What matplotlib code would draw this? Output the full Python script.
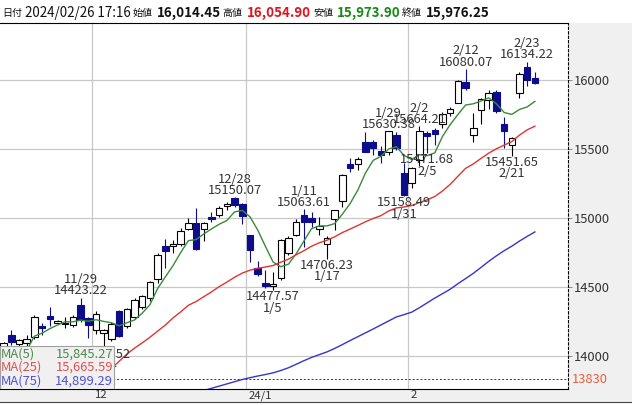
import matplotlib
matplotlib.use('Agg')
import matplotlib.pyplot as plt
from matplotlib.patches import Rectangle
import numpy as np

plt.rcParams['font.family'] = ['Noto Sans CJK JP', 'DejaVu Sans']

# daily candles, 2023/11/14 .. 2024/02/26
dates = ['11/14', '11/15', '11/16', '11/17', '11/20', '11/21', '11/22', '11/24', '11/27', '11/28',
         '11/29', '11/30', '12/1', '12/4', '12/5', '12/6', '12/7', '12/8', '12/11', '12/12',
         '12/13', '12/14', '12/15', '12/18', '12/19', '12/20', '12/21', '12/22', '12/26', '12/27',
         '12/28', '12/29', '1/2', '1/3', '1/4', '1/5', '1/8', '1/9', '1/10', '1/11',
         '1/12', '1/16', '1/17', '1/18', '1/19', '1/22', '1/23', '1/24', '1/25', '1/26',
         '1/29', '1/30', '1/31', '2/1', '2/2', '2/5', '2/6', '2/7', '2/8', '2/9',
         '2/12', '2/13', '2/14', '2/15', '2/16', '2/20', '2/21', '2/22', '2/23', '2/26']
opens = [13998, 14150, 14085, 14095, 14139, 14218, 14290, 14238, 14235, 14225,
         14367, 14275, 14185, 14168, 14120, 14325, 14220, 14285, 14357, 14418,
         14555, 14800, 14797, 14810, 14920, 14966, 14918, 15005, 15025, 15085,
         15143, 15100, 14874, 14641, 14530, 14504, 14564, 14745, 14878, 15020,
         15000, 14922, 14812, 14990, 15120, 15393, 15390, 15553, 15550, 15483,
         15475, 15602, 15325, 15252, 15420, 15618, 15640, 15685, 15760, 15836,
         15983, 15600, 15783, 15855, 15915, 15680, 15530, 15905, 16092, 16014.45]
highs = [14103, 14191, 14125, 14150, 14297, 14240, 14357, 14262, 14285, 14300,
         14423.22, 14285, 14323, 14195, 14250, 14333, 14350, 14420, 14440, 14545,
         14745, 14850, 14838, 14925, 15000, 15070, 14970, 15045, 15090, 15115,
         15150.07, 15112, 14880, 14690, 14623, 14610, 14848, 14870, 14990, 15063.61,
         15045, 15005, 14870, 15060, 15320, 15433, 15440, 15625, 15565, 15520,
         15630.38, 15625, 15396, 15370, 15664.21, 15630, 15655, 15770, 15803, 16000,
         16080.07, 15760, 15870, 15925, 15930, 15730, 15590, 16055, 16134.22, 16054.90]
lows = [13967, 14080, 14050, 14070, 14122, 14150, 14220, 14232, 14201, 14210,
        14250, 14128, 14160, 14058.52, 14110, 14140, 14200, 14270, 14340, 14400,
        14530, 14640, 14750, 14800, 14915, 14766, 14835, 14970, 15010, 15060,
        15083, 14955, 14682, 14580, 14490, 14477.57, 14552, 14730, 14870, 14790,
        14935, 14880, 14706.23, 14915, 15082, 15336, 15345, 15475, 15460, 15400,
        15460, 15490, 15158.49, 15215, 15375, 15471.68, 15530, 15650, 15740, 15830,
        15925, 15553, 15680, 15790, 15760, 15505, 15451.65, 15867, 15955, 15973.90]
closes = [14094.38, 14103.84, 14113.67, 14125.48, 14284.53, 14199.98, 14265.86, 14250.85, 14241.02, 14281.76,
          14258.49, 14226.22, 14305.03, 14185.49, 14229.91, 14146.71, 14339.99, 14403.97, 14432.49, 14533.40,
          14733.96, 14761.56, 14813.92, 14905.20, 14963.87, 14777.94, 14963.23, 14992.97, 15074.57, 15099.18,
          15095.14, 15011.35, 14765.94, 14592.21, 14510.30, 14524.07, 14843.77, 14857.71, 14969.65, 14970.19,
          14972.76, 14944.35, 14855.62, 15055.65, 15310.97, 15360.29, 15425.94, 15481.92, 15510.50, 15455.36,
          15628.04, 15509.90, 15164.01, 15361.64, 15628.95, 15597.68, 15609.00, 15756.64, 15793.71, 15990.66,
          15942.55, 15655.60, 15859.15, 15906.17, 15775.65, 15630.78, 15580.87, 16041.62, 15996.82, 15976.25]

ma5 = [13766, 13857, 13976, 14041, 14144, 14166, 14198, 14225, 14248, 14248,
       14260, 14252, 14263, 14251, 14241, 14219, 14241, 14261, 14311, 14371,
       14489, 14573, 14655, 14750, 14836, 14844, 14885, 14921, 14955, 14982,
       15045, 15055, 15009, 14913, 14795, 14681, 14647, 14666, 14741, 14833,
       14923, 14943, 14943, 14960, 15028, 15105, 15202, 15327, 15418, 15447,
       15500, 15517, 15454, 15424, 15459, 15452, 15472, 15591, 15677, 15750,
       15819, 15828, 15848, 15871, 15828, 15765, 15751, 15787, 15805, 15845.27]
ma25 = [None] * 10 + [
        13666, 13722, 13791, 13852, 13910, 13962, 14013, 14057, 14095, 14136,
        14180, 14224, 14276, 14320, 14368, 14395, 14430, 14465, 14503, 14536,
        14571, 14601, 14622, 14636, 14645, 14656, 14680, 14702, 14734, 14763,
        14796, 14821, 14839, 14864, 14895, 14920, 14946, 14973, 14997, 15017,
        15051, 15073, 15080, 15091, 15112, 15132, 15156, 15196, 15244, 15303,
        15360, 15392, 15432, 15470, 15502, 15528, 15554, 15601, 15639, 15665.59]
ma75 = [None] * 24 + [
        13722, 13735, 13750, 13766, 13782, 13798, 13814, 13830, 13843, 13855,
        13866, 13878, 13895, 13915, 13940, 13966, 13990, 14010, 14030, 14055,
        14083, 14112, 14140, 14168, 14196, 14225, 14254, 14283, 14300, 14318,
        14350, 14385, 14420, 14452, 14484, 14524, 14561, 14599, 14642, 14686,
        14726, 14763, 14796, 14833, 14867, 14899.29]

peak_days = ['11/29', '12/28', '1/11', '1/29', '2/2', '2/12', '2/23']
trough_days = ['12/4', '1/5', '1/17', '1/31', '2/5', '2/21']
month_starts = ['12/1', '1/2', '2/1']
month_labels = ['12', '24/1', '2']
y_ticks = [14000, 14500, 15000, 15500, 16000]
ref_level = 13830

W, H = 632, 405
fig = plt.figure(figsize=(W / 100, H / 100), dpi=100)
fig.patch.set_facecolor('white')

top_px, bot_px, right_px = 22.5, 389, 568
# grey side panel and bottom strip (drawn beneath the axes)
fig.patches.append(Rectangle((right_px / W, 1 - bot_px / H), 1 - right_px / W, (bot_px - top_px) / H,
                             transform=fig.transFigure, facecolor='#f0f0f0', edgecolor='none', zorder=-2))
fig.patches.append(Rectangle((0, 1 - 402 / H), 1, 13 / H, transform=fig.transFigure,
                             facecolor='#f0f0f0', edgecolor='none', zorder=-2))
fig.add_artist(plt.Line2D([0, 1], [1 - 402 / H] * 2, transform=fig.transFigure,
                          color='#444', lw=0.8, zorder=-1))

ax = fig.add_axes([0, 1 - bot_px / H, right_px / W, (bot_px - top_px) / H])
x = np.arange(len(dates))
o = np.array(opens); h = np.array(highs); l = np.array(lows); c = np.array(closes)
up = c >= o
navy = '#0c0c8c'

ax.vlines(x[up], l[up], h[up], color='black', lw=0.8, zorder=2)
ax.vlines(x[~up], l[~up], h[~up], color=navy, lw=0.8, zorder=2)
ax.bar(x[up], (c - o)[up], bottom=o[up], width=0.84, facecolor='white', edgecolor='black', lw=0.8, zorder=3)
ax.bar(x[~up], (o - c)[~up], bottom=c[~up], width=0.84, facecolor=navy, edgecolor=navy, lw=0.8, zorder=3)

def series(v):
    return np.array([np.nan if a is None else a for a in v], dtype=float)

ax.plot(x, series(ma5), color='#3a8a3a', lw=1.0, zorder=4)
ax.plot(x, series(ma25), color='#e03434', lw=1.0, zorder=4)
ax.plot(x, series(ma75), color='#3434cc', lw=1.0, zorder=4)

ax.set_xlim(-0.468, 73.3)
ax.set_ylim(13761, 16417)

grid_x = [dates.index(d) - 0.5 for d in month_starts]
for gx in grid_x:
    ax.axvline(gx, color='#c8c8c8', lw=0.9, zorder=1)
for gy in y_ticks:
    ax.axhline(gy, color='#c8c8c8', lw=0.9, zorder=1)
ax.axhline(ref_level, color='#333333', lw=0.7, ls=(0, (2, 2)), zorder=1)

ax.set_xticks([])
ax.yaxis.tick_right()
ax.set_yticks(y_ticks)
ax.set_yticklabels([str(v) for v in y_ticks])
ax.tick_params(axis='y', direction='out', length=3, width=0.7, color='#888888', pad=1,
               labelsize=9.3, labelcolor='#333333')
ax.annotate(str(ref_level), xy=(1.0, ref_level), xycoords=('axes fraction', 'data'),
            xytext=(4, 0), textcoords='offset pixels', ha='left', va='center',
            fontsize=9.3, color='#e8603c', annotation_clip=False)

ax.spines['left'].set_visible(False)
ax.spines['top'].set_color('black')
ax.spines['bottom'].set_color('black')
ax.spines['right'].set_linestyle((0, (2, 2)))
ax.spines['right'].set_linewidth(0.8)

for gx, lab in zip(grid_x, month_labels):
    ax.annotate(lab, xy=(gx, 0), xycoords=('data', 'axes fraction'), xytext=(2.5, -6.5),
                textcoords='offset pixels', ha='left', va='center', fontsize=8.2, color='#333333',
                annotation_clip=False)

tc = '#333333'
fs = 9.3
for d in peak_days:
    i = dates.index(d)
    ax.annotate(d, xy=(i, highs[i]), xytext=(0, 18), textcoords='offset pixels',
                ha='center', va='center', fontsize=fs, color=tc, zorder=5)
    ax.annotate('%.2f' % highs[i], xy=(i, highs[i]), xytext=(0, 6.7), textcoords='offset pixels',
                ha='center', va='center', fontsize=fs, color=tc, zorder=5)
for d in trough_days:
    i = dates.index(d)
    ax.annotate('%.2f' % lows[i], xy=(i, lows[i]), xytext=(0, -6.8), textcoords='offset pixels',
                ha='center', va='center', fontsize=fs, color=tc, zorder=5)
    ax.annotate(d, xy=(i, lows[i]), xytext=(0, -18.2), textcoords='offset pixels',
                ha='center', va='center', fontsize=fs, color=tc, zorder=5)

# moving average legend box
ah = bot_px - top_px
ax.add_patch(Rectangle((0, 0), 114 / right_px, 43 / ah, transform=ax.transAxes,
                       facecolor='#f0f0f0', edgecolor='#a0a0a0', lw=0.8, zorder=6))
legend_rows = [('MA(5)', ma5[-1], '#4a8a4a', 354.5),
               ('MA(25)', ma25[-1], '#e05050', 367.5),
               ('MA(75)', ma75[-1], '#5050d0', 380.7)]
for name, val, col, py in legend_rows:
    yy = (bot_px - py) / ah
    ax.text(1 / right_px, yy, name, transform=ax.transAxes, ha='left', va='center',
            fontsize=fs, color=col, zorder=7)
    ax.text(113 / right_px, yy, '{:,.2f}'.format(val), transform=ax.transAxes, ha='right', va='center',
            fontsize=fs, color=col, zorder=7)

# header line
hy = 1 - 12.8 / H
def ht(px, s, size, color='#111111', weight='normal'):
    fig.text(px / W, hy, s, ha='left', va='center', fontsize=size, color=color, fontweight=weight)

ht(2.5, '日付', 7.2)
ht(25, '2024/02/26 17:16', 9.6)
ht(133, '始値', 7.2)
ht(157, '{:,.2f}'.format(opens[-1]), 9.6, weight='bold')
ht(222, '高値', 7.2)
ht(247, '{:,.2f}'.format(highs[-1]), 9.6, color='#e0141c', weight='bold')
ht(313, '安値', 7.2)
ht(337, '{:,.2f}'.format(lows[-1]), 9.6, color='#158a15', weight='bold')
ht(402, '終値', 7.2)
ht(426, '{:,.2f}'.format(closes[-1]), 9.6, weight='bold')

fig.savefig('out.png', dpi=100)
